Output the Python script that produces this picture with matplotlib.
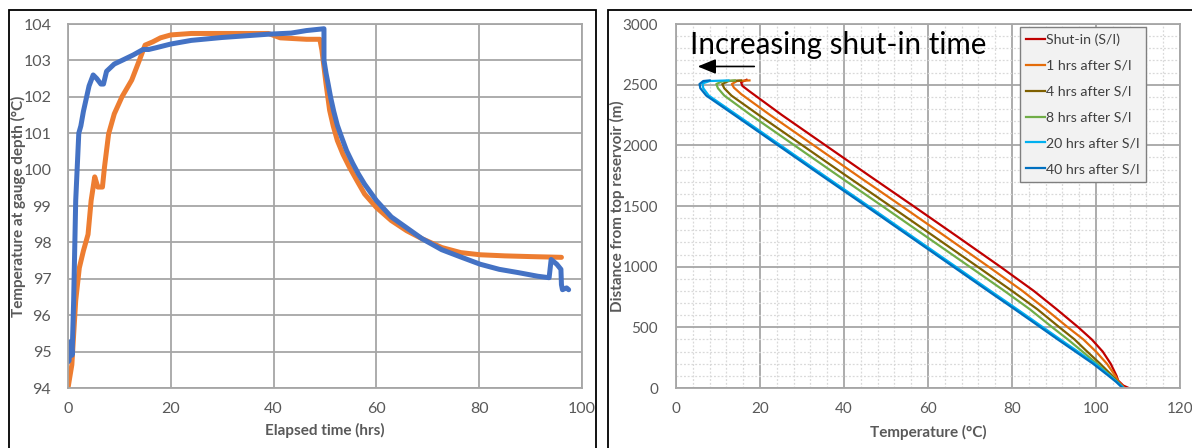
import matplotlib.pyplot as plt
from matplotlib.patches import Rectangle

plt.rcParams['font.family'] = ['Lato', 'DejaVu Sans']

# ---- left panel: gauge temperature vs elapsed time ----
blue_t = [0, 0.2, 0.4, 0.6, 0.8, 1.1, 1.5, 2.1, 2.5, 3.0, 4.1, 4.9, 5.6, 6.4, 6.9, 7.5, 9.0,
          10.5, 12.7, 14.6, 15.7, 17.2, 20, 24, 30, 39, 43.4, 46.4, 49.8,
          49.8, 50.2, 50.6, 51.1, 51.7, 52.4, 53.2, 54.2, 55.4, 56.5, 57.7, 60, 62.9, 65.9,
          68.9, 72.7, 76.4, 80.2, 83.9, 87.6, 91.4, 93.6, 94.0, 95.1, 95.9, 96.0, 96.2, 97.0, 97.4]
blue_T = [94.72, 94.75, 95.27, 95.2, 94.9, 96.4, 99.15, 101.0, 101.2, 101.6, 102.3, 102.6, 102.5,
          102.35, 102.35, 102.7, 102.9, 103.0, 103.15, 103.3, 103.3, 103.35, 103.45, 103.55,
          103.63, 103.72, 103.75, 103.82, 103.87,
          103.0, 102.65, 102.36, 101.98, 101.6, 101.22, 100.9, 100.52, 100.17, 99.88, 99.6,
          99.15, 98.7, 98.4, 98.1, 97.8, 97.6, 97.4, 97.26, 97.17, 97.07, 97.03, 97.53, 97.4,
          97.26, 96.84, 96.7, 96.75, 96.7]

orange_t = [0, 0.75, 1.1, 1.5, 2.2, 3.0, 3.9, 4.5, 5.2, 5.8, 6.7, 7.1, 7.9, 9.0, 10.5, 12.4,
            13.9, 15.0, 16.5, 18.0, 20, 24, 31.5, 39, 41.3, 46.4, 49.0, 49.4,
            50.2, 50.9, 51.6, 52.4, 53.5, 54.7, 56.2, 57.7, 60, 62.9, 65.9, 68.9, 72.7, 76.4,
            80.2, 85, 90, 96]
orange_T = [94.0, 94.64, 95.47, 96.4, 97.3, 97.77, 98.22, 99.15, 99.8, 99.52, 99.52, 100.07,
            100.98, 101.53, 102.0, 102.46, 103.01, 103.42, 103.51, 103.62, 103.7, 103.74, 103.74,
            103.74, 103.62, 103.58, 103.58, 103.28,
            102.36, 101.63, 101.2, 100.8, 100.42, 100.08, 99.7, 99.33, 98.96, 98.6, 98.32,
            98.1, 97.86, 97.72, 97.66, 97.63, 97.61, 97.59]

# ---- right panel: temperature profiles after shut-in ----
prof_labels = ['Shut-in (S/I)', '1 hrs after S/I', '4 hrs after S/I', '8 hrs after S/I',
               '20 hrs after S/I', '40 hrs after S/I']
prof_colors = ['#C00000', '#E46C0A', '#7F6000', '#70AD47', '#00B0F0', '#0070C0']

si_d = [2540, 2520, 2490, 2445, 2250, 2000, 1750, 1500, 1250, 1000, 800, 650, 500, 400, 300,
        200, 150, 100, 60, 20, 0]
si_T = [16.8, 15.5, 15.8, 17.5, 25.2, 35.6, 46.0, 56.5, 66.9, 77.2, 85.2, 90.6, 95.8, 99.0,
        101.6, 103.5, 104.2, 104.9, 105.3, 106.5, 107.8]

h1_d = [2535, 2530, 2505, 2475, 2420, 2250, 2000, 1750, 1500, 1250, 1000, 800, 650, 500, 400,
        300, 200, 100, 50, 0]
h1_T = [17.5, 14.5, 13.3, 13.8, 15.6, 22.4, 32.8, 43.2, 53.7, 64.1, 74.4, 82.5, 88.0, 93.3,
        97.0, 100.0, 102.6, 104.6, 105.4, 106.8]

h4_d = [2535, 2530, 2505, 2470, 2410, 2250, 2000, 1750, 1500, 1250, 1000, 800, 650, 500, 400,
        300, 200, 100, 50, 0]
h4_T = [15.5, 12.5, 11.0, 11.5, 13.2, 19.7, 30.1, 40.5, 51.0, 61.4, 71.8, 80.0, 86.0, 91.3,
        94.9, 97.9, 101.0, 103.9, 105.2, 106.6]

h8_d = [2535, 2528, 2505, 2470, 2410, 2250, 2000, 1750, 1500, 1250, 1000, 800, 650, 500, 400,
        300, 200, 100, 50, 0]
h8_T = [14.0, 11.0, 9.6, 10.0, 11.5, 17.8, 28.2, 38.6, 49.1, 59.5, 69.9, 78.2, 84.2, 89.6,
        93.3, 96.8, 100.2, 103.5, 105.1, 106.5]

h20_d = [2535, 2530, 2510, 2470, 2410, 2250, 2000, 1750, 1500, 1250, 1000, 800, 650, 500, 400,
         300, 200, 100, 50, 0]
h20_T = [12.5, 8.0, 6.3, 6.5, 7.8, 14.5, 24.9, 35.3, 45.8, 56.2, 66.6, 74.9, 81.2, 87.4,
         91.5, 95.7, 99.8, 103.3, 105.0, 106.6]

h40_d = [2535, 2530, 2505, 2470, 2410, 2250, 2000, 1750, 1500, 1250, 1000, 800, 650, 500, 400,
         300, 200, 100, 50, 0]
h40_T = [8.0, 6.5, 5.6, 5.8, 7.2, 13.9, 24.3, 34.7, 45.2, 55.6, 66.0, 74.3, 80.6, 86.8,
         90.9, 95.1, 99.3, 103.0, 104.8, 106.3]

profiles = [(si_T, si_d), (h1_T, h1_d), (h4_T, h4_d), (h8_T, h8_d), (h20_T, h20_d), (h40_T, h40_d)]

W, H = 1192, 448
fig = plt.figure(figsize=(W / 100, H / 100), dpi=100)

tick_c = '#595959'
grid_c = '#A6A6A6'

# panel borders
fig.add_artist(Rectangle((8.5 / W, -0.05), (596 - 8.5) / W, 1.05 - 10.5 / H,
                         transform=fig.transFigure, fill=False, ec='black', lw=1.3))
fig.add_artist(Rectangle((608 / W, -0.05), 0.5, 1.05 - 10.5 / H,
                         transform=fig.transFigure, fill=False, ec='black', lw=1.3))

# left chart
ax1 = fig.add_axes([68 / W, 1 - 388 / H, (582 - 68) / W, (388 - 24) / H])
ax1.plot(orange_t, orange_T, color='#ED7D31', lw=3.6, solid_capstyle='round', solid_joinstyle='round')
ax1.plot(blue_t, blue_T, color='#4472C4', lw=3.6, solid_capstyle='round', solid_joinstyle='round')
ax1.set_xlim(0, 100)
ax1.set_ylim(94, 104)
ax1.set_xticks(range(0, 101, 20))
ax1.set_yticks(range(94, 105))
ax1.grid(True, color=grid_c, lw=1.3)
ax1.set_axisbelow(True)
for s in ax1.spines.values():
    s.set_color(grid_c)
    s.set_linewidth(1.3)
ax1.tick_params(length=0, labelsize=11.5, labelcolor=tick_c, pad=10)
ax1.tick_params(axis='y', pad=12)
ax1.set_xlabel('Elapsed time (hrs)', fontsize=11, fontweight='bold', color=tick_c)
ax1.set_ylabel('Temperature at gauge depth (°C)', fontsize=11, fontweight='bold', color=tick_c)
ax1.xaxis.set_label_coords(0.5, (388 - 430) / 364, transform=ax1.transAxes)
ax1.yaxis.set_label_coords((18 - 68) / 514, 0.5, transform=ax1.transAxes)
ax1.xaxis.label.set_va('center')
ax1.yaxis.label.set_va('center')

# right chart
ax2 = fig.add_axes([676 / W, 1 - 388 / H, (1180 - 676) / W, (388 - 24) / H])
for (T, d), lab, c in zip(profiles, prof_labels, prof_colors):
    ax2.plot(T, d, color=c, lw=1.6, label=lab)
ax2.set_xlim(0, 120)
ax2.set_ylim(0, 3000)
ax2.set_xticks(range(0, 121, 20))
ax2.set_yticks(range(0, 3001, 500))
ax2.set_xticks(range(0, 121, 4), minor=True)
ax2.set_yticks(range(0, 3001, 100), minor=True)
ax2.grid(True, which='major', color=grid_c, lw=1.3)
ax2.grid(True, which='minor', color='#D9D9D9', lw=0.9, ls=(0, (1.5, 1.5)))
ax2.set_axisbelow(True)
for s in ax2.spines.values():
    s.set_color(grid_c)
    s.set_linewidth(1.3)
ax2.tick_params(which='both', length=0, labelsize=11, labelcolor=tick_c, pad=10)
ax2.tick_params(axis='y', pad=13)
ax2.set_xlabel('Temperature (°C)', fontsize=11, fontweight='bold', color=tick_c)
ax2.set_ylabel('Distance from top reservoir (m)', fontsize=11, fontweight='bold', color=tick_c)
ax2.xaxis.set_label_coords(0.5, (388 - 432) / 364, transform=ax2.transAxes)
ax2.yaxis.set_label_coords((617 - 676) / 504, 0.5, transform=ax2.transAxes)
ax2.xaxis.label.set_va('center')
ax2.yaxis.label.set_va('center')

leg = ax2.legend(loc='upper left', bbox_to_anchor=((1020 - 676) / 504, 1 - 3 / 364),
                 fontsize=10.2, frameon=True, fancybox=False, handlelength=1.3, handletextpad=0.1,
                 labelspacing=0.98, borderpad=0.45, borderaxespad=0)
leg.get_frame().set_facecolor('#F2F2F2')
leg.get_frame().set_edgecolor('#7F7F7F')
leg.get_frame().set_linewidth(1.0)
leg.get_frame().set_alpha(1)
for t in leg.get_texts():
    t.set_color('#404040')

ax2.text(3.3, 2830, 'Increasing shut-in time', fontsize=21.3, color='black', va='center', ha='left')
ax2.annotate('', xy=(4.5, 2650), xytext=(19.3, 2650),
             arrowprops=dict(arrowstyle='-|>,head_length=1.1,head_width=0.45', color='black', lw=1.2))

fig.savefig('out.png', dpi=100)
